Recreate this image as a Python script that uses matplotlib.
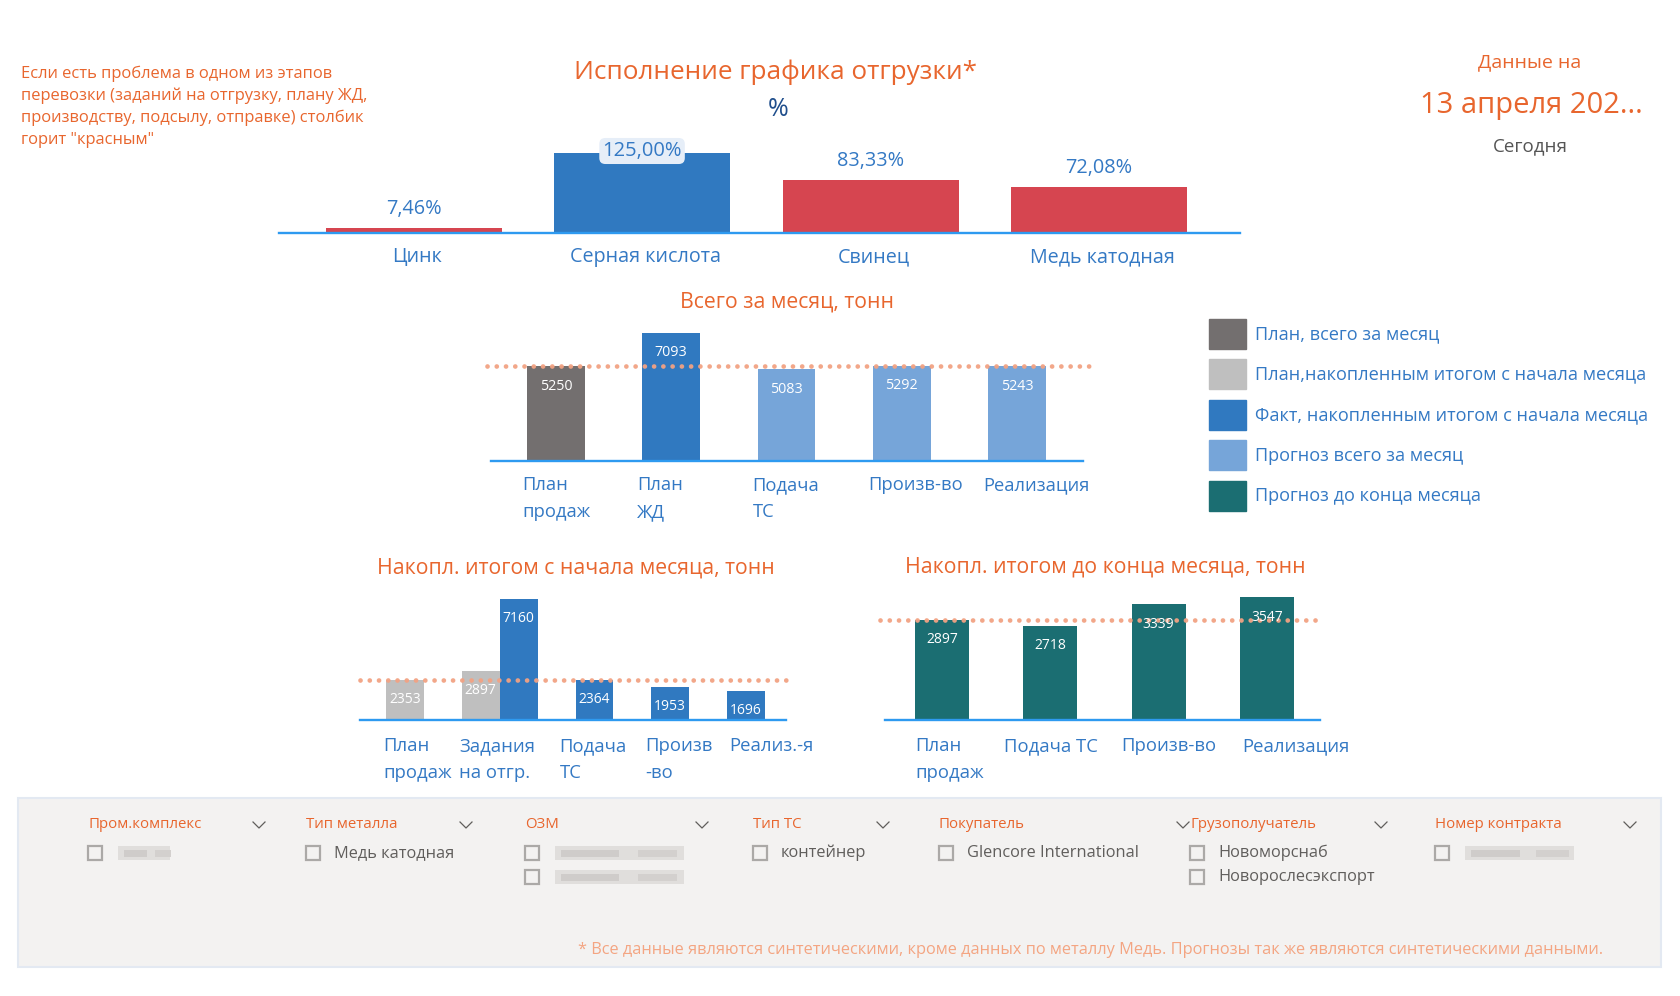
import matplotlib
matplotlib.use('Agg')
import matplotlib.pyplot as plt
from matplotlib.patches import Rectangle
from matplotlib.lines import Line2D

plt.rcParams['font.family'] = ['Open Sans', 'DejaVu Sans']

# ------------------------------------------------------------------ data
metals = ['Цинк', 'Серная кислота', 'Свинец', 'Медь катодная']
execution_pct = [7.46, 125.00, 83.33, 72.08]
execution_ok = [False, True, False, False]

month_cats = ['План\nпродаж', 'План\nЖД', 'Подача\nТС', 'Произв-во', 'Реализация']
month_vals = [5250, 7093, 5083, 5292, 5243]
month_kind = ['plan', 'fact', 'forecast', 'forecast', 'forecast']

ytd_cats = ['План\nпродаж', 'Задания\nна отгр.', 'Подача\nТС', 'Произв\n-во', 'Реализ.-я']
ytd_plan = [2353, 2897, None, None, None]
ytd_fact = [None, 7160, 2364, 1953, 1696]

rest_cats = ['План\nпродаж', 'Подача ТС', 'Произв-во', 'Реализация']
rest_vals = [2897, 2718, 3339, 3547]

legend_labels = ['План, всего за месяц',
                 'План,накопленным итогом с начала месяца',
                 'Факт, накопленным итогом с начала месяца',
                 'Прогноз всего за месяц',
                 'Прогноз до конца месяца']

note_lines = ['Если есть проблема в одном из этапов',
              'перевозки (заданий на отгрузку, плану ЖД,',
              'производству, подсылу, отправке) столбик',
              'горит "красным"']

filter_headers = ['Пром.комплекс', 'Тип металла', 'ОЗМ', 'Тип ТС',
                  'Покупатель', 'Грузополучатель', 'Номер контракта']
filter_items = [[None], ['Медь катодная'], [None, None], ['контейнер'],
                ['Glencore International'], ['Новоморснаб', 'Новорослесэкспорт'], [None]]

footnote = ('* Все данные являются синтетическими, кроме данных по металлу Медь. '
            'Прогнозы так же являются синтетическими данными.')

# ------------------------------------------------------------------ style / layout
ORANGE = '#E8662E'
LBLUE_TXT = '#3479C4'
NAVY = '#1F4E8C'
RED = '#D64550'
BLUE = '#3079C0'
LIGHTBLUE = '#76A5D9'
DARKGRAY = '#736F6F'
LIGHTGRAY = '#BFBFBF'
TEAL = '#1B6E72'
AXIS = '#2E9AF0'
DOT = '#F2A283'
SALMON = '#F4A582'
KIND_COLOR = {'plan': DARKGRAY, 'fact': BLUE, 'forecast': LIGHTBLUE}
LEGEND_COLORS = [DARKGRAY, LIGHTGRAY, BLUE, LIGHTBLUE, TEAL]

# horizontal nudges (px) of category labels, as laid out by the report tool
ytd_label_nudge = [-3, -3, -16, -6, 2]
rest_label_nudge = [0, -19, -10, 2]

W, H = 1680, 996
fig = plt.figure(figsize=(W / 100, H / 100), dpi=100)
fig.patch.set_facecolor('white')
PT = 0.72  # px -> points


def fx(x):
    return x / W


def fy(y):
    return 1 - y / H


def ftext(x, y, s, **kw):
    return fig.text(fx(x), fy(y), s, **kw)


def add_ax(x0, y_top, x1, y_bot):
    ax = fig.add_axes([fx(x0), fy(y_bot), (x1 - x0) / W, (y_bot - y_top) / H])
    ax.set_axis_off()
    ax.patch.set_alpha(0)
    return ax


def base_line(ax):
    ax.axhline(0, color=AXIS, lw=1.7, clip_on=False, zorder=3)


def cat_labels(ax, xs, labels, dy0, lh, size, nudges):
    for x, lab, dx in zip(xs, labels, nudges):
        for i, line in enumerate(lab.split('\n')):
            ax.annotate(line, (x, 0), xytext=(dx * PT, -(dy0 + i * lh) * PT),
                        textcoords='offset points', ha='left', va='center',
                        color=LBLUE_TXT, fontsize=size)


def inside_labels(ax, xs, vals, size=10, dy=20):
    for x, v in zip(xs, vals):
        if v is None:
            continue
        ax.annotate(f'{v}', (x, v), xytext=(0, -dy * PT), textcoords='offset points',
                    ha='center', va='center', color='white', fontsize=size, zorder=6)


def dotted(ax, level, ext_l, ext_r):
    ax.axhline(level, xmin=-ext_l, xmax=1 + ext_r, color=DOT, lw=3.4,
               linestyle=(0, (0.01, 1.95)), dash_capstyle='round', alpha=0.95,
               clip_on=False, zorder=5)


# ------------------------------------------------------------------ header texts
for i, line in enumerate(note_lines):
    ftext(21, 74 + i * 22, line, ha='left', va='center', color=ORANGE, fontsize=11.85)

ftext(775, 72, 'Исполнение графика отгрузки*', ha='center', va='center',
      color=ORANGE, fontsize=18.8)
ftext(778, 109, '%', ha='center', va='center', color=NAVY, fontsize=18)

ftext(1530, 62, 'Данные на', ha='center', va='center', color=ORANGE, fontsize=14)
ftext(1531, 105, '13 апреля 202...', ha='center', va='center', color=ORANGE, fontsize=21)
ftext(1530, 146, 'Сегодня', ha='center', va='center', color='#555555', fontsize=13.5)

# ------------------------------------------------------------------ top chart
ax1 = add_ax(279, 141, 1240, 233)
x1 = list(range(len(metals)))
cols1 = [BLUE if ok else RED for ok in execution_ok]
ax1.bar(x1, execution_pct, width=0.77, color=cols1, zorder=2)
ymax1 = max(execution_pct) * 1.15
ax1.set_xlim(-0.589, len(metals) - 1 + 0.617)
ax1.set_ylim(0, ymax1)
base_line(ax1)
px_per_unit = 92 / ymax1
for x, v in zip(x1, execution_pct):
    txt = f'{v:.2f}'.replace('.', ',') + '%'
    if v + 30 / px_per_unit > ymax1:
        ax1.annotate(txt, (x, v), xytext=(0, 2 * PT), textcoords='offset points',
                     ha='center', va='center', color=LBLUE_TXT, fontsize=14.5, zorder=6,
                     bbox=dict(boxstyle='round,pad=0.15,rounding_size=0.3',
                               fc='#E6EEF8', ec='none'))
    else:
        ax1.annotate(txt, (x, v), xytext=(0, 19 * PT), textcoords='offset points',
                     ha='center', va='center', color=LBLUE_TXT, fontsize=14.3)
for x, lab in zip(x1, metals):
    ax1.annotate(lab, (x, 0), xytext=(3 * PT, -24 * PT), textcoords='offset points',
                 ha='center', va='center', color=LBLUE_TXT, fontsize=14.2)

# ------------------------------------------------------------------ month chart
ftext(787, 302, 'Всего за месяц, тонн', ha='center', va='center', color=ORANGE, fontsize=15.3)
ax2 = add_ax(491, 301, 1083, 461)
x2 = list(range(len(month_cats)))
ax2.bar(x2, month_vals, width=0.5, color=[KIND_COLOR[k] for k in month_kind], zorder=2)
ax2.set_xlim(-0.564, len(month_cats) - 1 + 0.573)
ax2.set_ylim(0, max(month_vals) * 1.25)
base_line(ax2)
dotted(ax2, month_vals[0], 0.007, 0.017)
inside_labels(ax2, x2, month_vals, size=10.3, dy=20)
cat_labels(ax2, [x - 0.25 for x in x2], month_cats, 24, 27, 13.2, [-5] * len(x2))

# ------------------------------------------------------------------ legend
for i, (lab, c) in enumerate(zip(legend_labels, LEGEND_COLORS)):
    yc = 334 + i * 40.5
    fig.add_artist(Rectangle((fx(1209), fy(yc + 15)), 37 / W, 30 / H,
                             transform=fig.transFigure, color=c))
    ftext(1255, yc, lab, ha='left', va='center', color=LBLUE_TXT, fontsize=13.1)

# ------------------------------------------------------------------ YTD chart
ftext(576, 568, 'Накопл. итогом с начала месяца, тонн', ha='center', va='center',
      color=ORANGE, fontsize=15.3)
ax3 = add_ax(360, 587, 786, 720)
x3 = list(range(len(ytd_cats)))
for x, p, f in zip(x3, ytd_plan, ytd_fact):
    if p is not None:
        ax3.bar(x - 0.25, p, width=0.5, color=LIGHTGRAY, zorder=2)
    if f is not None:
        ax3.bar(x + 0.25, f, width=0.5, color=BLUE, zorder=2)
ax3.set_xlim(-0.844, len(ytd_cats) - 1 + 0.778)
ax3.set_ylim(0, max(v for v in ytd_fact if v is not None) * 1.1)
base_line(ax3)
dotted(ax3, ytd_plan[0], 0.0, 0.01)
inside_labels(ax3, [x - 0.25 for x in x3], ytd_plan, size=10, dy=19)
inside_labels(ax3, [x + 0.25 for x in x3], ytd_fact, size=10, dy=19)
left3 = [x - 0.5 if p is not None else x for x, p in zip(x3, ytd_plan)]
cat_labels(ax3, left3, ytd_cats, 26, 27, 13.3, ytd_label_nudge)

# ------------------------------------------------------------------ remaining chart
ftext(1105, 567, 'Накопл. итогом до конца месяца, тонн', ha='center', va='center',
      color=ORANGE, fontsize=15.3)
ax4 = add_ax(885, 585, 1320, 720)
x4 = list(range(len(rest_cats)))
ax4.bar(x4, rest_vals, width=0.5, color=TEAL, zorder=2)
ax4.set_xlim(-0.526, len(rest_cats) - 1 + 0.49)
ax4.set_ylim(0, max(rest_vals) * 1.1)
base_line(ax4)
dotted(ax4, rest_vals[0], 0.011, 0.005)
inside_labels(ax4, x4, rest_vals, size=10, dy=20)
cat_labels(ax4, [x - 0.25 for x in x4], rest_cats, 26, 27, 13.3, rest_label_nudge)

# ------------------------------------------------------------------ filter panel
fig.add_artist(Rectangle((fx(18), fy(967)), (1661 - 18) / W, (967 - 798) / H,
                         transform=fig.transFigure, fc='#F3F2F1', ec='#E3E9F2', lw=1.5,
                         zorder=0))
slicer_x = [88, 306, 525, 753, 939, 1190, 1435]
chevron_x = [259, 466, 702, 883, 1183, 1381, 1630]
blur_w = {0: [52], 2: [129, 129], 6: [109]}
for j, (hdr, items) in enumerate(zip(filter_headers, filter_items)):
    sx = slicer_x[j]
    ftext(sx, 825, hdr, ha='left', va='center', color=ORANGE, fontsize=10.8)
    cx = chevron_x[j]
    fig.add_artist(Line2D([fx(cx - 6), fx(cx), fx(cx + 6)], [fy(822), fy(828), fy(822)],
                          transform=fig.transFigure, color='#605E5C', lw=0.9))
    for k, it in enumerate(items):
        yc = 853 + k * 24
        fig.add_artist(Rectangle((fx(sx), fy(yc + 7)), 14 / W, 14 / H,
                                 transform=fig.transFigure, fc='none', ec='#ABA9A7',
                                 lw=1.6))
        if it is None:
            bw = blur_w[j][k]
            fig.add_artist(Rectangle((fx(sx + 30), fy(yc + 7)), bw / W, 14 / H,
                                     transform=fig.transFigure, fc='#E0DEDC', ec='none'))
            fig.add_artist(Rectangle((fx(sx + 36), fy(yc + 4)), bw * 0.45 / W, 7 / H,
                                     transform=fig.transFigure, fc='#CFCCCA', ec='none'))
            fig.add_artist(Rectangle((fx(sx + 36 + bw * 0.6), fy(yc + 4)), bw * 0.3 / W,
                                     7 / H, transform=fig.transFigure, fc='#D3D0CE',
                                     ec='none'))
        else:
            ftext(sx + 28, yc, it, ha='left', va='center', color='#605E5C', fontsize=11.8)

ftext(1603, 950, footnote, ha='right', va='center', color=SALMON, fontsize=11.75)

fig.savefig('out.png', dpi=100, facecolor='white')
